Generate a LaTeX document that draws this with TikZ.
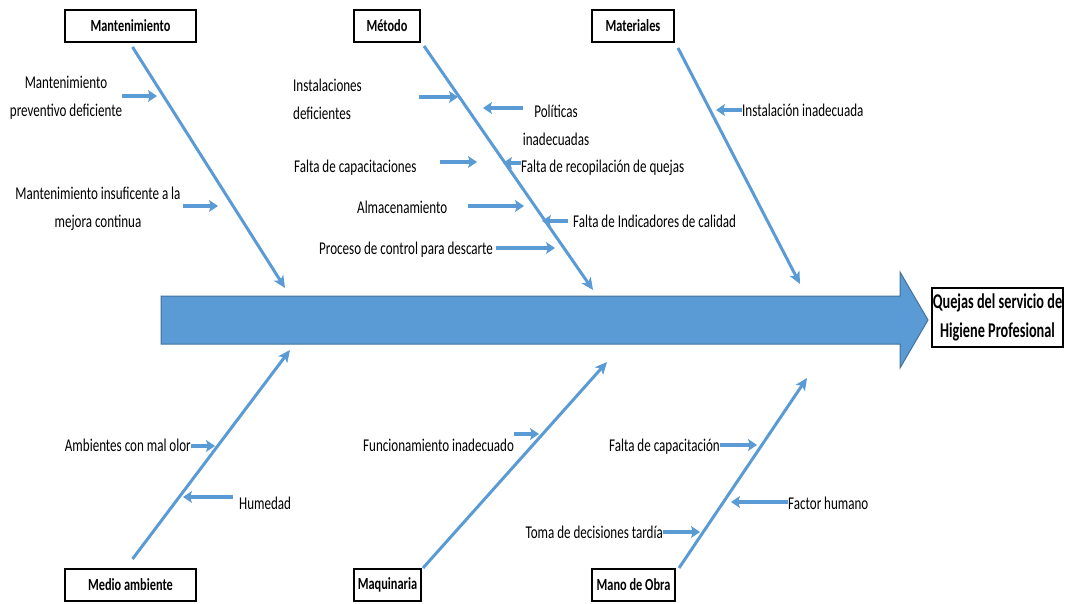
\documentclass[tikz,border=0pt]{standalone}
\usepackage{fontspec}
\setmainfont{Carlito}[FakeStretch=0.725]
\newfontfamily\headfont{Carlito}[FakeStretch=0.68]
\usetikzlibrary{arrows.meta}
\definecolor{fishblue}{HTML}{5B9BD5}
\definecolor{fishedge}{HTML}{41719C}
\tikzstyle{cat} = [rectangle, draw, line width=2pt, minimum height=32pt, inner xsep=3pt, font=\fontsize{17}{20}\selectfont\bfseries]
\tikzstyle{head} = [rectangle, draw, line width=2pt, align=center, minimum width=131pt, minimum height=59pt, inner sep=1pt, font=\headfont\fontsize{21}{29}\selectfont\bfseries]
\tikzstyle{cause} = [inner sep=0pt, text height=0.72em, text depth=0.22em, font=\fontsize{18}{28}\selectfont]
\tikzstyle{causes} = [inner sep=0pt, font=\fontsize{18}{28}\selectfont]
\tikzstyle{bone} = [draw=fishblue, line width=3pt, -{Stealth[length=12pt,width=11pt,inset=3pt]}]
\tikzstyle{line} = [draw=fishblue, line width=3.5pt, -{Stealth[length=9pt,width=12pt,inset=2pt]}]

\begin{document}
\begin{tikzpicture}[x=1pt, y=-1pt]
\useasboundingbox (0,0) rectangle (1065,604);

\filldraw [fill=fishblue, draw=fishedge, line width=1pt] (161,296) -- (900,296) -- (900,272) -- (928,320) -- (900,368) -- (900,344) -- (161,344) -- cycle;
\node [head] (quejas) at (997.5,317.5) {Quejas del servicio de\\Higiene Profesional};

\node [cat, minimum width=131pt] (mant) at (130.5,26) {Mantenimiento};
\node [cat, minimum width=66pt] (metodo) at (387,26) {Método};
\node [cat, minimum width=82pt] (materiales) at (633,26) {Materiales};
\node [cat, minimum width=131pt] (medio) at (130.5,585) {Medio ambiente};
\node [cat, minimum width=67pt] (maquinaria) at (387.5,585) {Maquinaria};
\node [cat, minimum width=83pt] (manoobra) at (633.5,585) {Mano de Obra};

\coordinate (e1) at (285,288);
\coordinate (e2) at (593,290);
\coordinate (e3) at (800,284);
\coordinate (e4) at (290,350);
\coordinate (e5) at (607,362);
\coordinate (e6) at (807,378);

\path [bone] ([shift={(2pt,-4pt)}]mant.south) -- (e1);
\path [bone] ([shift={(3pt,-3pt)}]metodo.south east) -- (e2);
\path [bone] ([shift={(3pt,-5pt)}]materiales.south east) -- (e3);
\path [bone] ([shift={(2pt,9pt)}]medio.north) -- (e4);
\path [bone] ([shift={(1pt,0pt)}]maquinaria.north east) -- (e5);
\path [bone] ([shift={(3pt,0pt)}]manoobra.north east) -- (e6);

\node [causes, align=center] (c1) at (66,98) {Mantenimiento\\preventivo deficiente};
\node [causes, align=center] (c2) at (98,209) {Mantenimiento insuficente a la\\mejora continua};
\node [causes, align=left, anchor=west] (c3) at (293,99) {Instalaciones\\deficientes};
\node [causes, align=center] (c4) at (556,125) {Políticas\\inadecuadas};
\node [cause, anchor=west] (c5) at (294,170) {Falta de capacitaciones};
\node [cause, anchor=west] (c6) at (521,170) {Falta de recopilación de quejas};
\node [cause, anchor=west] (c7) at (357,211) {Almacenamiento};
\node [cause, anchor=west] (c8) at (573,225) {Falta de Indicadores de calidad};
\node [cause, anchor=west] (c9) at (319,252) {Proceso de control para descarte};
\node [cause, anchor=west] (c10) at (742,114) {Instalación inadecuada};
\node [cause, anchor=east] (c11) at (191,449) {Ambientes con mal olor};
\node [cause, anchor=west] (c12) at (239,507) {Humedad};
\node [cause, anchor=west] (c13) at (363,449) {Funcionamiento inadecuado};
\node [cause, anchor=east] (c14) at (720,449) {Falta de capacitación};
\node [cause, anchor=west] (c15) at (788,507) {Factor humano};
\node [cause, anchor=east] (c16) at (663,536) {Toma de decisiones tardía};

\coordinate (t1) at (157,96);
\coordinate (t2) at (218,206);
\coordinate (t3) at (458,97);
\coordinate (t4) at (483,108);
\coordinate (t5) at (477,162);
\coordinate (t6) at (503,163);
\coordinate (t7) at (524,206);
\coordinate (t8) at (542,221);
\coordinate (t9) at (555,248);
\coordinate (t10) at (716,110);
\coordinate (t11) at (215,446);
\coordinate (t12) at (183,497);
\coordinate (t13) at (539,434);
\coordinate (t14) at (757,445);
\coordinate (t15) at (731,502);
\coordinate (t16) at (700,532);

\path [line] (c1.east |- t1) -- (t1);
\path [line, shorten <=2pt] (c2.east |- t2) -- (t2);
\path [line, shorten <=57pt] (c3.east |- t3) -- (t3);
\path [line] (c4.west |- t4) -- (t4);
\path [line, shorten <=23pt] (c5.east |- t5) -- (t5);
\path [line] (c6.west |- t6) -- (t6);
\path [line, shorten <=20pt] (c7.east |- t7) -- (t7);
\path [line, shorten <=5pt] (c8.west |- t8) -- (t8);
\path [line, shorten <=3pt] (c9.east |- t9) -- (t9);
\path [line] (c10.west |- t10) -- (t10);
\path [line] (c11.east |- t11) -- (t11);
\path [line, shorten <=6pt] (c12.west |- t12) -- (t12);
\path [line] (c13.east |- t13) -- (t13);
\path [line] (c14.east |- t14) -- (t14);
\path [line] (c15.west |- t15) -- (t15);
\path [line] (c16.east |- t16) -- (t16);

\end{tikzpicture}
\end{document}
